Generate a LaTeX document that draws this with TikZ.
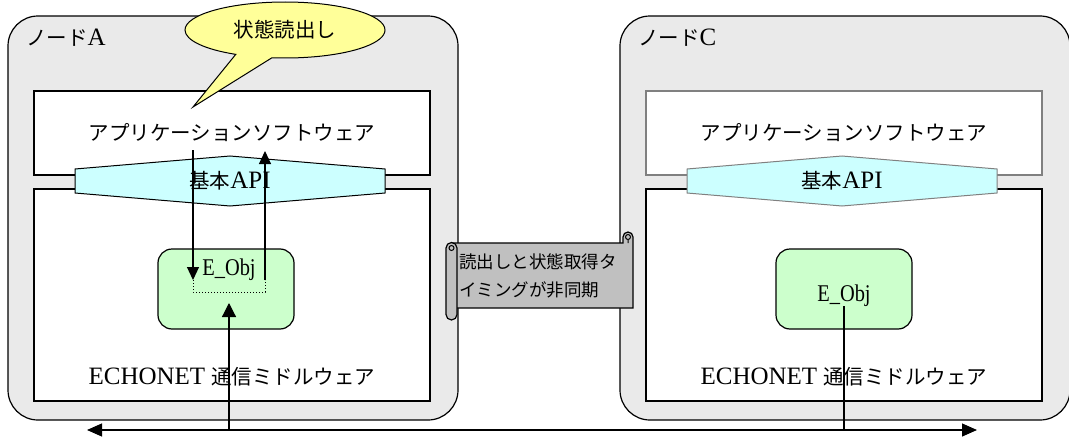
\documentclass[tikz,border=0pt]{standalone}
\usepackage{fontspec}
\setmainfont{Liberation Serif}
\newfontfamily\jpfont{Noto Sans CJK JP}
\newcommand\jt[1]{{\fontsize{20.5}{24}\selectfont\jpfont #1}}
\usepackage{tikz}
\usetikzlibrary{calc,arrows.meta}
\usetikzlibrary{shapes.callouts}

\definecolor{nodegray}{HTML}{EAEAEA}
\definecolor{objgreen}{HTML}{CCFFCC}
\definecolor{apicyan}{HTML}{CCFFFF}
\definecolor{sayyellow}{HTML}{FFFF99}
\definecolor{scrollgray}{HTML}{C0C0C0}
\definecolor{linegray}{HTML}{808080}

\begin{document}
\begin{tikzpicture}[x=1pt,y=-1pt,
	every node/.style={font=\fontsize{25}{28}\selectfont, inner sep=0pt},
	outbox/.style={draw,line width=1.2pt,fill=nodegray,rounded corners=30pt,minimum width=450pt,minimum height=404pt},
	layer/.style={draw,line width=1.2pt,fill=white,minimum width=396pt},
	objbox/.style={draw,line width=1.2pt,fill=objgreen,rounded corners=14pt,minimum width=136pt,minimum height=80pt},
	objlab/.style={font=\fontsize{24}{26}\selectfont},
	arr/.style={line width=1.2pt,-{Triangle[length=13pt,width=12pt]}},
	dots/.style={line width=1pt,dotted}]
	\useasboundingbox (0,0) rectangle (1069,439);
	%% both nodes drawn with a loop
	\foreach \n/\cx/\ln in {A/232/black,C/844/linegray}{
		\node[outbox] (out\n) at (\cx+1,218){};
		\node[anchor=west] (lab\n) at (\cx-206,38){\jt{ノード}\n};
		\node[layer,draw=\ln,minimum height=84pt] (app\n) at (\cx,133){\jt{アプリケーションソフトウェア}};
		\node[layer,minimum height=212pt] (mw\n) at (\cx,295){};
		\node (mwlab\n) at (\cx,377){ECHONET \jt{通信ミドルウェア}};
		%% hexagon of the API
		\draw[draw=\ln,line width=1pt,fill=apicyan] (\cx-157,169) -- (\cx-2,156) -- (\cx+153,169) -- (\cx+153,193) -- (\cx-2,206) -- (\cx-157,193) -- cycle;
		\node (api\n) at (\cx-2,181){\jt{基本}API};
	}
	%% E_Obj boxes placed by hand
	\node[objbox] (objA) at (226,289){};
	\node[objlab] (objlabA) at (229,270){\scalebox{0.85}[1]{E\_Obj}};
	\node[objbox] (objC) at (844,289){};
	\node[objlab] (objlabC) at (844,296){\scalebox{0.85}[1]{E\_Obj}};
	%% the callout
	\node[ellipse callout,draw,line width=1pt,fill=sayyellow,minimum width=200pt,minimum height=56pt,
		callout absolute pointer={(193,107)},callout pointer arc=22] (say) at (285,30){\jt{状態読出し}};
	%% the scroll between the nodes
	\filldraw[line width=1.2pt,fill=scrollgray] (452,243) -- (623,243) -- (623,237) arc[start angle=180,end angle=0,radius=5pt] -- (633,308) -- (452,308) -- cycle;
	\draw[line width=1pt] (628,237) circle[radius=2.5pt] (628,239.5) -- (628,243);
	\filldraw[line width=1.2pt,fill=scrollgray] (446,248) arc[start angle=180,end angle=0,radius=5.5pt] -- (457,314.5) arc[start angle=0,end angle=-180,radius=5.5pt] -- cycle;
	\draw[line width=1pt] (451.5,248) circle[radius=2.5pt];
	\node[align=left,anchor=west,font=\fontsize{17.5}{28}\selectfont\jpfont] (async) at (459,276){読出しと状態取得タ\\イミングが非同期};
	%% points for the arrows
	\coordinate (rdA) at (193,150);\coordinate (dnA) at (193,280);
	\coordinate (upA) at (265,280);\coordinate (retA) at (265,151);
	\coordinate (busL) at (87,430);\coordinate (busR) at (977,430);
	\coordinate (tapA) at (229,430);\coordinate (inA) at (229,303);
	\coordinate (tapC) at (844,430);\coordinate (outC) at (844,306);
	\draw[arr] (rdA) -- (dnA);
	\draw[dots] (dnA) -- ++(0,12) -| (upA);
	\draw[arr] (upA) -- (retA);
	\draw[line width=1.2pt,{Triangle[length=15pt,width=13pt]}-{Triangle[length=15pt,width=13pt]}] (busL) -- (busR);
	\draw[line width=1.2pt,-{Triangle[length=14pt,width=14pt]}] (tapA) -- (inA);
	\draw[line width=1.2pt] (tapC) -- (outC);
\end{tikzpicture}
\end{document}
